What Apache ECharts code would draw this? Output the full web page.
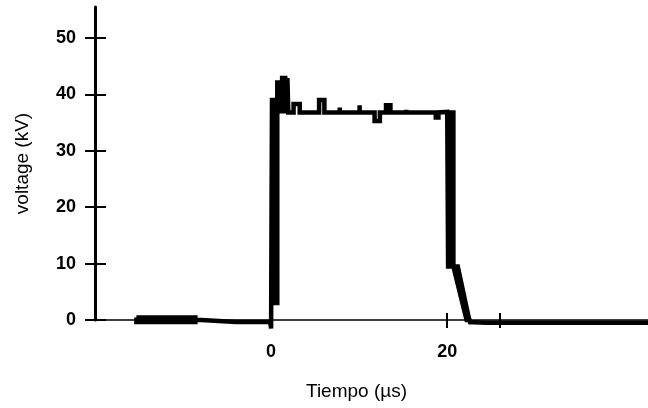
<!DOCTYPE html>
<html>
<head>
<meta charset="utf-8">
<script src="https://cdn.jsdelivr.net/npm/echarts@6/dist/echarts.min.js"></script>
<style>
  html, body { margin: 0; padding: 0; background: #fff; }
  #chart { width: 648px; height: 408px; }
</style>
</head>
<body>
<div id="chart"></div>
<script>
// pulso de tension, [tiempo (us), tension (kV)]
var preTrigger = [[-15.3,0.45],[-8.6,0.45],[-8.6,-0.35],[-15.3,-0.35],[-15.3,0.05],[-8.4,0.05],
    [-8.2,-0.3],[-4.0,-0.35],[-0.1,-0.35]];
var riseEdge = [[0.0,-1.5],[0.05,20.0],[0.1,39.0],[0.4,39.0],[0.4,3.0],[0.7,3.0],[0.7,42.1],
    [1.0,42.1],[1.0,37.0],[1.25,37.0],[1.25,42.9],[1.6,42.9],[1.6,37.0],[1.85,37.0],[1.85,42.9],
    [1.95,42.9],[1.95,36.8]];
var plateau = [[2.55,36.8],[2.55,38.3],[3.25,38.3],[3.25,36.8],[5.45,36.8],[5.45,39.0],[6.05,39.0],
    [6.05,36.8],[7.8,36.8],[7.8,37.7],[7.8,36.8],[10.05,36.8],[10.05,38.1],[10.05,36.8],[11.75,36.8],
    [11.75,35.3],[12.35,35.3],[12.35,36.8],[13.05,36.8],[13.05,38.1],[13.55,38.1],[13.55,36.8],
    [15.35,36.8],[15.35,37.3],[15.35,36.8],[18.7,36.8],[18.7,35.9],[19.0,35.9],[19.0,36.8],[20.0,36.9]];
var fallEdge = [[20.1,36.9],[20.1,9.5],[20.4,9.5],[20.4,36.8],[20.7,36.8],[20.7,9.5],[22.2,0.0],
    [22.5,0.0],[21.2,9.5],[20.9,9.5],[22.6,-0.4]];
var tail = [[23.0,-0.4],[24.5,-0.5],[42.8,-0.5]];

var yTicks = [0, 10, 20, 30, 40, 50];
var xTicks = [0, 20, 26];
var xLabels = [0, 20];

var pulse = preTrigger.concat(riseEdge, plateau, fallEdge, tail);

var chart = echarts.init(document.getElementById('chart'));
var labelFont = { color: '#000', fontFamily: 'Liberation Sans', fontWeight: 'bold', fontSize: 18 };

chart.setOption({
    animation: false,
    backgroundColor: '#fff',
    grid: { left: 95, top: 7, width: 553, height: 313 },
    graphic: [{
        type: 'text', left: 306, top: 382,
        style: { text: 'Tiempo (µs)', fill: '#000', font: '19px "Liberation Sans"' }
    }],
    xAxis: [{
        type: 'value', min: -20, max: 42.8, position: 'bottom',
        splitLine: { show: false },
        axisLine: { lineStyle: { color: '#000', width: 1.5 } },
        axisTick: { customValues: xTicks, length: 8, lineStyle: { color: '#000', width: 2 } },
        axisLabel: Object.assign({ customValues: xLabels, margin: 23 }, labelFont)
    }, {
        type: 'value', min: -20, max: 42.8, position: 'bottom',
        splitLine: { show: false },
        axisLine: { show: false },
        axisTick: { customValues: xTicks, inside: true, length: 7, lineStyle: { color: '#000', width: 2 } },
        axisLabel: { show: false }
    }],
    yAxis: [{
        type: 'value', min: 0, max: 55.5, position: 'left',
        name: 'voltage (kV)', nameLocation: 'middle', nameGap: 63,
        nameTextStyle: { color: '#000', fontFamily: 'Liberation Sans', fontSize: 19 },
        splitLine: { show: false },
        axisLine: { onZero: false, lineStyle: { color: '#000', width: 3 } },
        axisTick: { customValues: yTicks, length: 10, lineStyle: { color: '#000', width: 2 } },
        axisLabel: Object.assign({ customValues: yTicks, margin: 19 }, labelFont)
    }, {
        type: 'value', min: 0, max: 55.5, position: 'left',
        splitLine: { show: false },
        axisLine: { show: false, onZero: false },
        axisTick: { customValues: yTicks, inside: true, length: 11, lineStyle: { color: '#000', width: 2 } },
        axisLabel: { show: false }
    }],
    series: [{
        type: 'line',
        data: pulse,
        clip: false,
        showSymbol: false,
        lineStyle: { color: '#000', width: 4.5, join: 'miter' }
    }]
});
</script>
</body>
</html>
